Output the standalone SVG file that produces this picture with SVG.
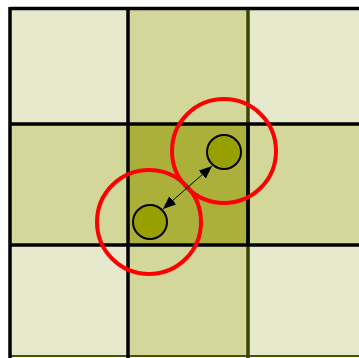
<svg xmlns="http://www.w3.org/2000/svg" width="359" height="358" viewBox="0 0 359 358">
<defs>
<style>
.light{fill:#E6E9CB;stroke:#4A5200;stroke-width:2}
.mid{fill:#D3D79A;stroke:#4A5200;stroke-width:2}
.center{fill:#AAB03A;stroke:#4A5200;stroke-width:2}
.grid{stroke:#000;stroke-width:3.5;fill:none}
.olive{stroke:#3C4300;stroke-width:3.5;fill:none}
.dot{fill:#98A000;stroke:#000;stroke-width:2}
.ring{fill:none;stroke:#FF0000;stroke-width:4}
.conn{stroke:#000;stroke-width:1;fill:none}
</style>
<marker id="ah" viewBox="0 0 12 10" refX="12" refY="5" markerWidth="13" markerHeight="11" markerUnits="userSpaceOnUse" orient="auto-start-reverse">
<path d="M0,0 L12,5 L0,10 z" fill="#000"/>
</marker>
</defs>
<rect width="359" height="358" fill="#fff"/>
<g id="cells">
<rect class="light" x="10" y="9" width="118" height="115"/>
<rect class="mid" x="128" y="9" width="120" height="115"/>
<rect class="light" x="248" y="9" width="114" height="115"/>
<rect class="mid" x="10" y="124" width="118" height="121"/>
<rect class="center" x="128" y="124" width="120" height="121"/>
<rect class="mid" x="248" y="124" width="114" height="121"/>
<rect class="light" x="10" y="245" width="118" height="111"/>
<rect class="mid" x="128" y="245" width="120" height="111"/>
<rect class="light" x="248" y="245" width="114" height="111"/>
</g>
<g id="gridlines">
<line class="olive" x1="248" y1="9" x2="248" y2="358"/>
<line class="grid" x1="10" y1="8.5" x2="359" y2="8.5"/>
<line class="grid" x1="10" y1="7" x2="10" y2="358" stroke-width="4"/>
<line class="grid" x1="10" y1="124" x2="359" y2="124"/>
<line class="grid" x1="10" y1="245" x2="359" y2="245"/>
<line class="grid" x1="128" y1="8" x2="128" y2="358"/>
<line class="grid" x1="248" y1="124" x2="248" y2="245"/>
</g>
<g id="node-a">
<circle class="dot" cx="224" cy="152" r="17"/>
<circle class="ring" cx="224" cy="151" r="52"/>
</g>
<g id="node-b">
<circle class="dot" cx="150" cy="222" r="17"/>
<circle class="ring" cx="149" cy="222" r="52"/>
</g>
<g id="connectors">
<line class="conn" x1="163" y1="209" x2="212" y2="166" marker-start="url(#ah)" marker-end="url(#ah)"/>
</g>
</svg>
